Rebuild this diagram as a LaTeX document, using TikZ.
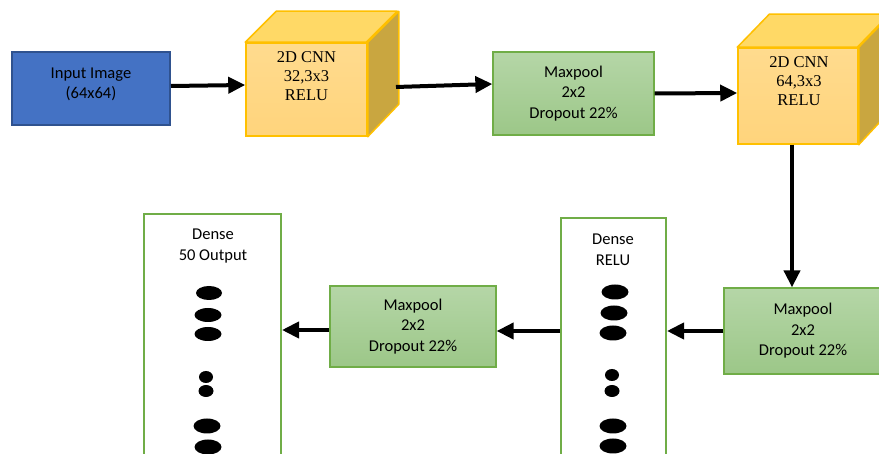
\documentclass[tikz,border=0pt]{standalone}
\usepackage{fontspec}
\setmainfont{Carlito}
\newfontfamily\serifx{Liberation Serif}
\usetikzlibrary{arrows.meta}
\definecolor{inblue}{HTML}{4472C4}
\definecolor{inborder}{HTML}{2F528F}
\definecolor{cubeedge}{HTML}{FFC000}
\definecolor{cubetopc}{HTML}{FFD966}
\definecolor{cubeside}{HTML}{C9A640}
\definecolor{cubefronttop}{HTML}{FFDB8E}
\definecolor{cubefrontbot}{HTML}{FFD47C}
\definecolor{gborder}{HTML}{70AD47}
\definecolor{gtop}{HTML}{B5D6A7}
\definecolor{gbot}{HTML}{9CC788}
\tikzset{
  txt/.style={font=\fontsize{16.5}{20.5}\selectfont, align=center, inner sep=0pt},
  stxt/.style={font=\serifx\fontsize{16.5}{18.8}\selectfont, align=center, inner sep=0pt},
  inbox/.style={draw=inborder, line width=2pt, fill=inblue, minimum width=158pt, minimum height=73pt, inner sep=0pt},
  cubefront/.style={draw=cubeedge, line width=1.5pt, top color=cubefronttop, bottom color=cubefrontbot, inner sep=0pt},
  cubetop/.style={draw=cubeedge, line width=1.5pt, fill=cubetopc, line join=round},
  cuberight/.style={draw=cubeedge, line width=1.5pt, fill=cubeside, line join=round},
  poolbox/.style={draw=gborder, line width=1.3pt, top color=gtop, bottom color=gbot, txt},
  densebox/.style={draw=gborder, line width=2pt, fill=white, inner sep=0pt},
  arr/.style={line width=4pt, -{Triangle[length=17pt,width=16pt]}},
  neuron/.style={fill=black}
}
\begin{document}
\begin{tikzpicture}[x=1pt,y=-1pt]
\useasboundingbox (0,0) rectangle (879,454);
\clip (0,0) rectangle (879,454);
\fill[white] (0,0) rectangle (879,454);

% input
\node[inbox] (inp) at (91,88.5) {};
\node[txt] (inpt) at (91,84.5) {Input Image\\(64x64)};

% cube 1
\node[cubefront, minimum width=121pt, minimum height=93pt] (c1) at (306.5,89.5) {};
\draw[cubetop] (c1.north west) -- ++(31,-31) -- ++(121,0) -- ++(-31,31) -- cycle;
\draw[cuberight] (c1.north east) -- ++(31,-31) -- ++(0,93) -- (c1.south east) -- cycle;
\node[stxt] (c1t) at (306.5,76) {2D CNN\\32,3x3\\RELU};
\coordinate (c1r) at (396,87);

% maxpool 1
\node[poolbox, minimum width=161pt, minimum height=83pt] (mp1) at (573.5,93.5) {Maxpool\\2x2\\Dropout 22\%};

% cube 2
\node[cubefront, minimum width=120pt, minimum height=96pt] (c2) at (798,96) {};
\draw[cubetop] (c2.north west) -- ++(32,-33) -- ++(120,0) -- ++(-32,33) -- cycle;
\draw[cuberight] (c2.north east) -- ++(32,-33) -- ++(0,96) -- (c2.south east) -- cycle;
\node[stxt] (c2t) at (799,81) {2D CNN\\64,3x3\\RELU};

% maxpool 2
\node[poolbox, minimum width=158pt, minimum height=86pt] (mp2) at (803,331) {Maxpool\\2x2\\Dropout 22\%};

% dense relu
\node[densebox, minimum width=105pt, minimum height=260pt] (dr) at (613.5,348) {};
\node[txt] (drt) at (613,250) {Dense\\RELU};

% maxpool 3
\node[poolbox, minimum width=166pt, minimum height=81pt] (mp3) at (413,326.5) {Maxpool\\2x2\\Dropout 22\%};

% dense output
\node[densebox, minimum width=137pt, minimum height=260pt] (do) at (212.5,344) {};
\node[txt] (dot) at (213,246) {Dense\\50 Output};

% neurons dense output
\fill[neuron] (209,293) ellipse (13pt and 7pt);
\fill[neuron] (208,315) ellipse (13.5pt and 7pt);
\fill[neuron] (208,334) ellipse (13.5pt and 7pt);
\fill[neuron] (206,377) ellipse (7pt and 6pt);
\fill[neuron] (206,391) ellipse (7.5pt and 6pt);
\fill[neuron] (207,426) ellipse (13.5pt and 7.5pt);
\fill[neuron] (208,447) ellipse (13.5pt and 7.5pt);

% neurons dense relu
\fill[neuron] (615,292) ellipse (13.5pt and 7.5pt);
\fill[neuron] (614,313) ellipse (13.5pt and 7.5pt);
\fill[neuron] (613,333) ellipse (13.5pt and 7.5pt);
\fill[neuron] (612,375) ellipse (7pt and 6pt);
\fill[neuron] (612,391) ellipse (7.5pt and 6pt);
\fill[neuron] (613,426) ellipse (13.5pt and 7.5pt);
\fill[neuron] (613,446) ellipse (13.5pt and 7.5pt);

% connectors
\draw[arr] ([yshift=2.5pt]inp.east) -- ([yshift=4.5pt]c1.west);
\draw[arr] (c1r) -- ([yshift=9.5pt]mp1.west);
\draw[arr] (mp1.east) -- ([yshift=3pt]c2.west);
\draw[arr] ([xshift=-6pt]c2.south) -- ([xshift=-6pt]c2.south |- mp2.north);
\draw[arr] (mp2.west) -- (mp2.west -| dr.east);
\draw[arr] (dr.west |- mp2.west) -- (mp3.east |- mp2.west);
\draw[arr] ([yshift=-3.5pt]mp3.west) -- ([yshift=-3.5pt]mp3.west -| do.east);
\end{tikzpicture}
\end{document}
